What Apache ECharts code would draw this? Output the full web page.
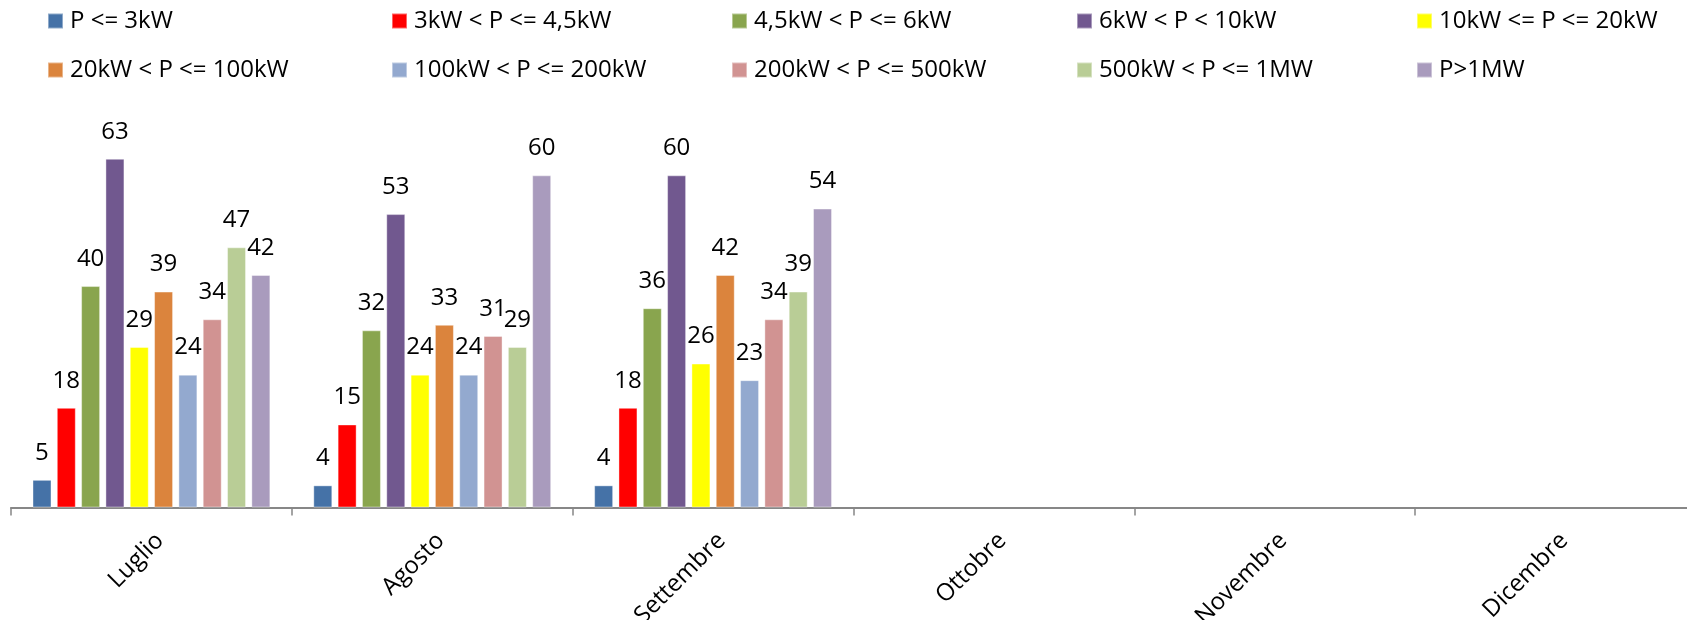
<!DOCTYPE html>
<html>
<head>
<meta charset="utf-8">
<script src="https://cdn.jsdelivr.net/npm/echarts@6/dist/echarts.min.js"></script>
<style>html,body{margin:0;padding:0;background:#fff}#c{width:1687px;height:620px}</style>
</head>
<body>
<div id="c"></div>
<script>
const categories = ['Luglio', 'Agosto', 'Settembre', 'Ottobre', 'Novembre', 'Dicembre'];
const seriesNames = ['P <= 3kW', '3kW < P <= 4,5kW', '4,5kW < P <= 6kW', '6kW < P < 10kW', '10kW <= P <= 20kW',
  '20kW < P <= 100kW', '100kW < P <= 200kW', '200kW < P <= 500kW', '500kW < P <= 1MW', 'P>1MW'];
const sP3 = [5, 4, 4, null, null, null];
const sP3_45 = [18, 15, 18, null, null, null];
const sP45_6 = [40, 32, 36, null, null, null];
const sP6_10 = [63, 53, 60, null, null, null];
const sP10_20 = [29, 24, 26, null, null, null];
const sP20_100 = [39, 33, 42, null, null, null];
const sP100_200 = [24, 24, 23, null, null, null];
const sP200_500 = [34, 31, 34, null, null, null];
const sP500_1M = [47, 29, 39, null, null, null];
const sP1M = [42, 60, 54, null, null, null];
const seriesValues = [sP3, sP3_45, sP45_6, sP6_10, sP10_20, sP20_100, sP100_200, sP200_500, sP500_1M, sP1M];
const colors = ['#4572A7', '#FF0000', '#89A54E', '#71588F', '#FFFF00', '#DB843D', '#93A9CF', '#D19392', '#B9CD96', '#A99BBD'];

const FONT = 'Open Sans';
const legendCols = [47, 391, 731, 1076, 1416];
const legendRows = [9, 58];
const legends = seriesNames.map((n, i) => ({
  data: [n],
  left: legendCols[i % 5],
  top: legendRows[Math.floor(i / 5)],
  icon: 'rect',
  itemWidth: 15,
  itemHeight: 15,
  itemGap: 0,
  padding: 0,
  selectedMode: false,
  textStyle: { fontFamily: FONT, fontSize: 24, color: '#000', lineHeight: 24, padding: [0, 0, 0, 2] }
}));

const chart = echarts.init(document.getElementById('c'), null, { renderer: 'canvas' });
chart.setOption({
  animation: false,
  color: colors,
  legend: legends,
  grid: { left: 11, width: 1685, top: 120, bottom: 112.5, containLabel: false, outerBoundsMode: 'none' },
  xAxis: {
    type: 'category',
    data: categories,
    axisLine: { lineStyle: { color: '#878787', width: 2 } },
    axisTick: { show: true, length: 8, lineStyle: { color: '#878787', width: 1.5 } },
    axisLabel: { rotate: 45, fontFamily: FONT, fontSize: 24, color: '#000', margin: 21, verticalAlign: 'top', interval: 0 }
  },
  yAxis: { type: 'value', min: 0, max: 70, show: false, splitLine: { show: false } },
  series: seriesValues.map((vals, i) => ({
    name: seriesNames[i],
    type: 'bar',
    data: vals,
    barWidth: 19,
    barGap: '28%',
    itemStyle: { color: colors[i], borderColor: 'rgba(255,255,255,0.4)', borderWidth: 1 },
    label: { show: true, position: 'top', distance: 15, fontFamily: FONT, fontSize: 24, color: '#000' }
  }))
});
</script>
</body>
</html>
